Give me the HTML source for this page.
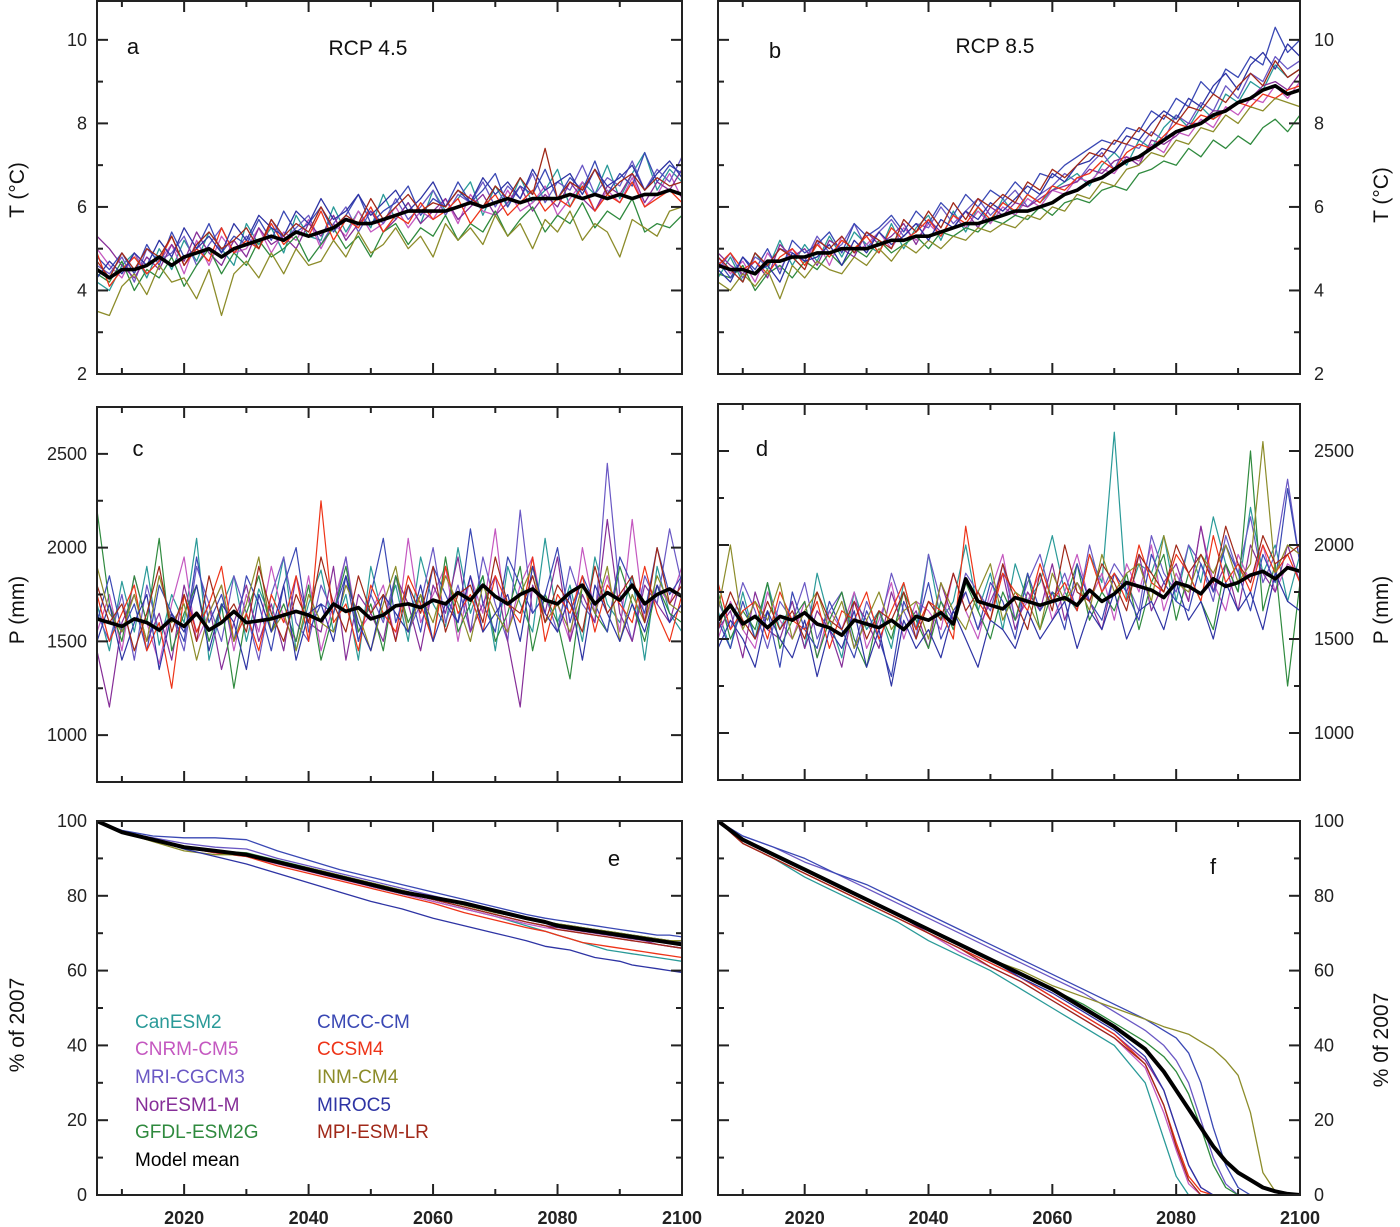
<!DOCTYPE html>
<html><head><meta charset="utf-8"><style>
html,body{margin:0;padding:0;background:#fff}
svg{display:block;font-family:"Liberation Sans",Arial,sans-serif}
</style></head><body>
<svg id="chart" width="1400" height="1227" viewBox="0 0 1400 1227"></svg>
<script>
const years2 = [];
for (let y = 2006; y <= 2100; y += 2) years2.push(y);
const yearsGlacier = [2006,2010,2015,2020,2025,2030,2035,2040,2045,2050,2055,2060,2065,2070,2075,2078,2080,2082,2084,2086,2088,2090,2092,2094,2096,2098,2100];

const modelNames = ["CanESM2","CNRM-CM5","MRI-CGCM3","NorESM1-M","GFDL-ESM2G","CMCC-CM","CCSM4","INM-CM4","MIROC5","MPI-ESM-LR"];
const modelColors = ["#2a9a98","#c458c0","#6a58c4","#862e98","#2f8a3e","#3a48b4","#ee3418","#8c8c2a","#2e34a4","#a02818"];

// Panel a: T RCP4.5
const tA_mean = [4.5,4.3,4.5,4.5,4.6,4.8,4.6,4.8,4.9,5.0,4.8,5.0,5.1,5.2,5.3,5.2,5.4,5.3,5.4,5.5,5.7,5.6,5.6,5.7,5.8,5.9,5.9,5.9,5.9,6.0,6.1,6.0,6.1,6.2,6.1,6.2,6.2,6.2,6.3,6.2,6.3,6.2,6.3,6.2,6.3,6.3,6.4,6.3];
const tA_CanESM2 = [4.2,4.0,4.6,4.9,4.3,5.0,4.5,5.2,4.7,5.4,5.0,4.6,5.6,5.1,5.5,4.9,5.8,5.3,5.2,6.0,5.4,5.9,5.5,6.3,5.7,6.1,5.6,6.4,5.9,6.2,6.6,5.8,6.5,6.0,6.7,6.1,6.4,6.9,6.0,6.6,6.3,7.0,6.2,6.8,7.3,6.4,6.9,6.6];
const tA_CNRM = [5.0,4.6,4.3,4.9,4.4,4.7,5.1,4.4,5.2,4.6,5.3,4.9,5.0,5.5,4.9,5.4,5.2,5.7,5.0,5.6,5.3,5.9,5.4,5.6,6.0,5.5,5.9,5.7,6.2,5.6,6.3,5.9,5.8,6.4,5.9,6.1,6.5,5.8,6.2,6.6,5.9,6.4,6.1,6.7,6.0,6.3,6.8,6.2];
const tA_MRI = [4.6,4.4,4.8,4.2,5.0,4.7,4.9,5.3,4.6,5.1,5.5,4.9,5.3,5.0,5.7,5.2,5.5,5.8,5.1,5.6,6.0,5.4,5.9,5.6,6.2,5.7,6.0,6.4,5.8,6.3,6.1,6.6,6.0,6.5,6.2,6.8,6.1,6.6,6.4,7.0,6.3,6.7,6.5,7.1,6.4,6.9,6.6,7.2];
const tA_NorESM = [5.3,5.0,4.6,4.3,4.8,4.5,5.1,4.7,5.4,4.9,4.6,5.2,4.8,5.5,5.1,5.3,5.0,5.6,5.3,5.8,5.2,5.6,5.9,5.4,5.7,6.1,5.6,5.9,6.2,5.7,6.0,6.3,5.8,6.1,6.5,5.9,6.3,6.0,6.6,6.2,5.9,6.5,6.3,6.8,6.1,6.6,6.4,6.9];
const tA_GFDL = [4.4,4.2,4.7,4.0,4.5,4.3,4.8,4.1,4.6,5.0,4.4,4.9,4.6,5.2,4.8,5.0,5.3,4.7,5.1,5.5,5.0,5.3,4.8,5.4,5.6,5.1,5.5,5.3,5.8,5.2,5.6,5.4,5.9,5.3,5.7,6.0,5.4,5.8,5.6,6.1,5.5,5.9,5.7,6.2,5.4,5.6,5.5,5.8];
const tA_CMCC = [4.8,4.5,4.9,4.4,5.1,4.6,5.4,4.8,5.0,5.6,4.9,5.3,5.1,5.7,5.2,5.9,5.4,5.6,6.0,5.4,5.8,6.3,5.6,5.9,6.1,6.5,5.8,6.2,6.0,6.6,6.1,6.4,6.8,6.0,6.5,6.3,6.9,6.2,6.7,6.4,7.1,6.3,6.8,6.5,7.3,6.6,7.0,6.8];
const tA_CCSM4 = [4.9,4.1,4.5,4.8,4.4,4.7,5.3,4.6,5.0,4.7,5.5,4.9,5.2,5.0,5.6,5.1,5.4,5.3,5.9,5.2,5.7,5.5,6.0,5.4,5.8,5.6,6.1,5.7,5.9,6.2,5.6,6.0,6.3,5.8,6.1,6.4,5.9,6.2,6.0,6.5,5.9,6.3,6.1,6.6,6.0,6.2,6.4,6.1];
const tA_INM = [3.5,3.4,4.1,4.4,3.9,4.6,4.2,4.3,3.8,4.5,3.4,4.4,4.7,4.3,4.9,4.4,5.0,4.6,4.7,5.2,4.8,5.4,4.9,5.1,5.5,5.0,5.3,4.8,5.6,5.2,5.5,5.1,5.8,5.3,5.6,5.0,5.7,5.4,5.9,5.2,5.6,5.4,4.8,5.7,5.5,5.3,5.9,6.0];
const tA_MIROC5 = [4.3,4.7,4.4,4.9,4.6,5.2,4.8,5.5,5.0,5.3,4.9,5.6,5.2,5.8,5.5,5.3,5.9,5.6,6.2,5.7,5.9,6.3,5.8,6.1,6.4,5.9,6.2,6.6,6.0,6.4,6.1,6.7,6.3,6.6,6.2,6.9,6.4,6.6,6.8,6.3,6.9,6.5,6.7,7.0,6.4,6.8,7.1,6.7];
const tA_MPI = [4.7,4.3,4.9,4.5,5.0,4.8,5.3,4.6,5.1,5.4,5.0,5.2,5.5,5.0,5.7,5.3,5.6,5.4,6.0,5.5,5.8,5.6,6.2,5.7,6.0,6.3,5.9,6.1,6.0,6.4,6.2,6.0,6.5,6.2,6.7,6.3,7.4,6.2,6.6,6.4,6.9,6.3,6.6,6.8,6.4,6.7,6.5,6.6];

// Panel b: T RCP8.5
const tB_mean = [4.6,4.5,4.5,4.4,4.7,4.7,4.8,4.8,4.9,4.9,5.0,5.0,5.0,5.1,5.2,5.2,5.3,5.3,5.4,5.5,5.6,5.6,5.7,5.8,5.9,5.9,6.0,6.1,6.3,6.4,6.6,6.7,6.9,7.1,7.2,7.4,7.6,7.8,7.9,8.0,8.2,8.3,8.5,8.6,8.8,8.9,8.7,8.8];
const tB_CanESM2 = [4.3,4.8,4.2,4.9,4.5,5.2,4.6,5.1,4.7,5.3,4.8,5.4,5.1,4.9,5.6,5.0,5.5,5.8,5.2,5.9,5.4,6.0,5.6,6.2,5.8,6.3,6.1,6.4,6.6,6.8,6.5,7.0,7.3,7.0,7.6,7.4,7.9,8.2,7.9,8.4,8.1,8.7,8.5,9.0,8.8,9.4,9.1,9.3];
const tB_CNRM = [4.8,4.4,4.7,4.2,4.9,4.5,5.0,4.7,5.2,4.6,5.3,4.9,5.1,5.4,5.0,5.5,5.2,5.6,5.3,5.8,5.5,5.9,5.6,6.0,5.8,6.2,6.0,6.4,6.3,6.7,6.6,6.9,6.8,7.2,7.1,7.5,7.3,7.8,7.7,8.1,7.9,8.4,8.2,8.6,8.5,8.9,8.6,9.0];
const tB_MRI = [4.5,4.9,4.3,4.8,4.6,5.0,4.9,4.7,5.3,4.9,5.1,5.6,5.0,5.4,5.7,5.3,5.6,5.5,6.0,5.6,5.9,6.2,5.8,6.1,6.4,6.0,6.3,6.5,6.8,6.6,7.0,7.3,6.9,7.5,7.4,7.8,7.6,8.2,8.0,8.5,8.3,8.9,8.6,9.2,9.0,9.6,9.3,9.5];
const tB_NorESM = [4.9,4.6,4.4,4.7,4.3,5.1,4.8,5.0,4.6,5.2,5.0,4.8,5.4,5.1,5.3,5.6,5.1,5.7,5.4,5.5,5.9,5.5,6.0,5.8,6.1,6.0,6.2,6.4,6.5,6.6,6.9,6.8,7.1,7.2,7.0,7.6,7.5,7.7,8.0,8.0,8.3,8.3,8.5,8.6,8.9,9.0,8.8,9.2];
const tB_GFDL = [4.4,4.3,4.6,4.0,4.4,4.6,4.3,4.7,4.5,4.9,4.6,5.0,4.8,5.2,4.9,5.1,5.3,5.0,5.4,5.3,5.5,5.4,5.7,5.6,5.8,5.7,6.0,5.8,6.1,6.2,6.1,6.4,6.5,6.4,6.8,6.9,7.1,7.0,7.4,7.2,7.6,7.4,7.7,7.5,7.9,8.1,7.8,8.2];
const tB_CMCC = [4.7,4.3,4.8,4.5,5.0,4.4,5.2,4.9,5.1,5.4,4.9,5.6,5.3,5.5,5.8,5.4,5.9,5.6,6.1,5.8,6.3,6.0,6.4,6.2,6.6,6.3,6.8,6.7,7.0,7.2,7.4,7.6,7.5,7.9,7.8,8.3,8.1,8.6,8.4,9.0,8.7,9.3,9.1,9.6,9.4,10.3,9.7,10.0];
const tB_CCSM4 = [4.6,4.9,4.5,4.7,4.4,4.8,5.0,4.6,5.1,4.8,5.2,5.0,5.3,4.9,5.5,5.2,5.4,5.7,5.3,5.8,5.6,6.0,5.7,6.1,5.9,6.3,6.1,6.5,6.4,6.7,6.8,7.1,6.9,7.3,7.5,7.4,7.7,8.0,7.9,8.2,8.1,8.3,8.5,8.4,8.7,8.6,8.8,8.9];
const tB_INM = [4.2,4.0,4.4,4.1,4.5,3.8,4.6,4.3,4.7,4.5,4.4,4.8,4.6,5.0,4.7,5.1,4.9,5.2,5.0,5.3,5.2,5.5,5.4,5.6,5.5,5.8,5.7,6.0,5.9,6.3,6.2,6.6,6.5,6.9,7.0,7.3,7.2,7.6,7.5,7.9,7.8,8.2,8.0,8.4,8.3,8.6,8.5,8.4];
const tB_MIROC5 = [4.5,4.2,4.8,4.4,4.6,4.2,4.9,4.7,4.8,5.1,4.6,5.2,4.9,5.4,5.1,5.3,5.6,5.2,5.7,5.5,5.9,5.7,6.1,5.9,6.2,6.5,6.3,6.8,6.6,7.0,7.1,7.4,7.3,7.7,7.6,8.0,8.3,8.1,8.6,8.4,8.9,9.2,8.8,9.4,9.7,9.3,9.9,9.6];
const tB_MPI = [4.8,4.5,4.2,4.9,4.6,5.0,4.8,4.5,5.2,5.0,5.3,4.9,5.4,5.2,5.0,5.7,5.4,5.9,5.5,6.1,5.7,6.2,6.0,6.3,6.1,6.6,6.4,6.9,6.7,7.0,7.3,7.2,7.6,7.5,7.9,7.7,8.2,8.0,8.4,8.3,8.7,8.5,8.9,9.2,8.9,9.5,9.1,9.3];

// Panel c: P RCP4.5
const pC_mean = [1620,1600,1580,1620,1600,1560,1620,1580,1650,1560,1600,1660,1600,1610,1620,1640,1660,1640,1610,1700,1660,1680,1620,1640,1690,1700,1680,1720,1700,1760,1720,1800,1740,1700,1750,1780,1720,1700,1760,1800,1700,1760,1720,1800,1700,1750,1780,1740];
const pC_CanESM2 = [1700,1450,1820,1550,1900,1480,1750,1600,2050,1400,1680,1850,1500,1780,1620,1950,1450,1700,1880,1550,1750,1400,1900,1620,1800,1500,1950,1700,1580,2000,1650,1850,1450,1900,1700,1550,2050,1600,1800,1500,1950,1700,1600,1850,1400,1900,1650,1550];
const pC_CNRM = [1550,1750,1450,1850,1600,1380,1700,1950,1500,1650,1800,1450,1750,1550,1900,1620,1500,1850,1450,1700,1950,1550,1650,1800,1500,2050,1600,1750,1900,1500,1850,1650,2100,1550,1800,1950,1600,1700,1500,2000,1650,1850,1550,2150,1600,1800,1700,1900];
const pC_MRI = [1650,1500,1750,1400,1800,1550,1650,1450,1900,1700,1500,1850,1650,1400,1750,1950,1600,1500,1800,1650,1950,1500,1750,1600,1850,1550,1700,2000,1600,1800,1550,1950,1700,1500,2200,1650,1750,1550,1900,1700,1600,2450,1750,1500,1850,1700,2100,1800];
const pC_NorESM = [1450,1150,1600,1750,1500,1650,1400,1800,1550,1700,1350,1600,1800,1500,1700,1450,1850,1600,1550,1900,1400,1750,1650,1500,1850,1700,1450,1800,1650,1950,1550,1700,1850,1500,1150,1800,1650,1950,1500,1750,1600,2150,1650,1500,1800,1700,1600,1850];
const pC_GFDL = [2200,1700,1500,1850,1600,2050,1450,1650,1800,1500,1700,1250,1650,1850,1550,1700,1500,1800,1400,1650,1900,1550,1700,1450,1850,1600,1750,1500,1950,1550,1700,1850,1500,1650,1900,1450,1750,1600,1300,1800,1650,1550,1900,1700,1500,1800,1650,1600];
const pC_CMCC = [1600,1850,1550,1700,1450,1800,1650,1500,1950,1600,1750,1500,1850,1700,1450,1800,2000,1550,1700,1650,1850,1500,1750,2050,1600,1800,1550,1900,1750,1600,2100,1700,1550,1950,1800,1650,1750,2000,1600,1850,1700,1550,1950,1800,1650,2000,1750,1850];
const pC_CCSM4 = [1750,1500,1650,1800,1450,1600,1250,1750,1550,1700,1900,1500,1650,1450,1750,1600,1850,1500,2250,1600,1700,1450,1800,1650,1550,1850,1700,1500,1900,1650,1750,1550,1850,1700,1600,1950,1500,1750,1650,1850,1550,1800,1700,1600,1900,1650,1500,1750];
const pC_INM = [1900,1650,1550,1750,1500,1850,1600,1700,1400,1650,1800,1500,1700,1950,1550,1650,1450,1750,1600,1550,1800,1650,1450,1700,1900,1550,1750,1600,1850,1700,1500,1800,1650,1550,1750,1900,1600,1700,1550,1800,1650,1900,1500,1750,1600,1850,1700,1650];
const pC_MIROC5 = [1500,1700,1400,1600,1750,1350,1650,1550,1800,1450,1700,1600,1350,1750,1550,1800,1400,1650,1700,1500,1850,1600,1450,1750,1650,1550,1800,1500,1700,1600,1850,1550,1650,1750,1500,1900,1650,1550,1750,1400,1800,1650,1500,1700,1550,1800,1600,1700];
const pC_MPI = [1800,1600,1700,1450,1650,1900,1550,1750,1500,1850,1600,1700,1550,1900,1650,1500,1750,1600,1950,1700,1550,1850,1650,1750,1500,1800,1650,1900,1550,1750,1800,1600,1950,1700,1650,1850,1600,1800,1700,1550,1900,1650,1750,1850,1600,2000,1700,1800];

// Panel d: P RCP8.5
const pD_mean = [1600,1680,1580,1620,1560,1620,1600,1640,1580,1560,1520,1600,1580,1560,1600,1550,1620,1600,1640,1580,1820,1700,1680,1660,1720,1700,1680,1700,1720,1680,1760,1700,1740,1800,1780,1760,1720,1800,1780,1740,1820,1780,1800,1840,1860,1820,1880,1860];
const pD_CanESM2 = [1650,1450,1750,1500,1800,1550,1700,1450,1850,1600,1400,1750,1550,1650,1450,1800,1550,1950,1600,1700,2000,1650,1850,1550,1900,1700,1800,2050,1750,1650,1950,1800,2600,1700,1900,1850,2050,1700,2000,1800,2150,1900,1750,2200,1850,2000,1700,1950];
const pD_CNRM = [1500,1700,1550,1450,1750,1600,1500,1700,1400,1650,1550,1750,1450,1600,1800,1500,1700,1650,1550,1850,1650,1500,1750,1950,1600,1700,1850,1600,1750,1950,1700,1850,1600,1900,1750,2000,1650,1850,1700,2100,1800,1650,1950,1800,2000,1750,1900,1850];
const pD_MRI = [1700,1550,1800,1650,1450,1700,1600,1800,1500,1650,1750,1450,1700,1550,1850,1650,1500,1950,1700,1600,1850,1750,1650,1900,1600,1800,1950,1700,1850,1650,2000,1750,1900,1800,1650,2050,1850,1750,2000,1900,1700,2050,1850,2150,1800,1950,2350,1900];
const pD_NorESM = [1550,1650,1400,1750,1550,1500,1700,1450,1650,1550,1350,1700,1600,1450,1750,1550,1650,1450,1800,1600,1750,1550,1700,1850,1550,1750,1650,1900,1600,1800,1700,1550,1850,1750,1950,1650,1800,1900,1700,2100,1750,1900,1650,2000,1850,1750,2000,1800];
const pD_GFDL = [1750,1500,1650,1550,1800,1450,1600,1700,1400,1600,1750,1500,1350,1650,1500,1750,1600,1450,1700,1550,1800,1650,1500,1750,1600,1850,1550,1750,1700,1900,1600,1750,1650,1850,1550,1800,1950,1600,1850,1700,1550,1900,1750,2500,1650,1900,1250,1800];
const pD_CMCC = [1600,1450,1700,1500,1650,1350,1750,1550,1450,1700,1550,1400,1650,1500,1300,1700,1550,1800,1500,1650,1750,1550,1800,1700,1500,1850,1650,1750,1550,1900,1700,1600,1850,1750,1600,1950,1800,1700,1650,1900,1750,2000,1850,1650,1950,1800,2300,1900];
const pD_CCSM4 = [1800,1550,1650,1700,1500,1750,1600,1550,1700,1450,1650,1600,1750,1500,1650,1800,1550,1700,1650,1500,2100,1700,1600,1850,1750,1650,1900,1700,1800,1650,1950,1750,1850,1700,2000,1800,1750,1950,1850,1700,2050,1800,1900,1750,2000,1850,1950,1800];
const pD_INM = [1650,2000,1550,1700,1600,1800,1500,1650,1750,1550,1700,1450,1600,1750,1550,1650,1700,1500,1800,1650,1550,1750,1900,1600,1750,1700,1550,1850,1700,1800,1650,1950,1750,1850,1900,1700,2050,1800,1750,1950,1850,2000,1800,1900,2550,1850,2000,1950];
const pD_MIROC5 = [1450,1600,1500,1350,1650,1500,1400,1600,1300,1550,1450,1650,1350,1550,1250,1600,1450,1550,1400,1650,1500,1350,1600,1550,1450,1650,1500,1600,1700,1450,1650,1550,1750,1500,1650,1700,1550,1800,1600,1700,1500,1800,1650,1750,1550,1850,1700,1650];
const pD_MPI = [1550,1750,1600,1500,1700,1550,1650,1500,1750,1600,1550,1700,1500,1650,1600,1750,1500,1700,1600,1850,1650,1750,1600,1900,1700,1550,1850,1650,2000,1750,1700,1900,1800,1650,1950,1850,1750,2000,1850,1950,1800,2100,1900,1800,2050,1900,1950,2000];

// Panel e: glacier volume RCP4.5 (% of 2007)
const gE_mean = [100,97,95,93,92,91,89,87,85,83,81,79.5,78,76,74,73,72,71.5,71,70.5,70,69.5,69,68.5,68,67.5,67];
const gE_CanESM2 = [100,97,95,93,92,91,89,87,85,82.5,80.5,78.5,76.5,74.5,72,70.5,69.5,68.5,67.5,66.5,65.5,65,64.5,64,63.5,63,62.5];
const gE_CNRM = [100,97,95,93,91.5,90.5,88.5,86.5,84.5,82.5,80.5,78.5,76.5,74.5,72.5,71.5,71,70.5,70,69.5,69,68.5,68,67.5,67,66.5,66];
const gE_MRI = [100,97,95.5,94,93,92.5,90,88,86,84,82,80,78,76,74,73,72.5,72,71.5,71,70.5,70,69.5,69,68.5,68,67.5];
const gE_NorESM = [100,97,95,93,92,91,89,87,85,83,81,79,77,75,73,72,71.5,71,70.5,70,69.5,69,68.5,68,67,66.5,66];
const gE_GFDL = [100,97,95,93,92,91.5,89.5,87.5,85.5,83.5,81.5,79.5,77.5,75.5,74,73,72.5,72,71.5,71,70.5,70,69.5,69,68.5,68,68];
const gE_CMCC = [100,97.5,96,95.5,95.5,95,92,89.5,87,85,83,81,79,77,75,74,73.5,73,72.5,72,71.5,71,70.5,70,69.5,69.5,69];
const gE_CCSM4 = [100,97,95,93,91.5,90.5,88,86,84,82,80,78,75.5,73.5,71.5,70.5,69.5,68.5,67.5,67,66.5,66,65.5,65,64.5,64,63.5];
const gE_INM = [100,97,94.5,92,91,91,89,87.5,85.5,83.5,81.5,79.5,77.5,75.5,74,73,72.5,72,71.5,71,70.5,70,69.5,69,68.5,68,68];
const gE_MIROC5 = [100,97,95,92.5,90.5,88.5,86,83.5,81,78.5,76.5,74,72,70,68,66.5,66,65.5,64.5,63.5,63,62.5,61.5,61,60.5,60,59.5];
const gE_MPI = [100,97,95,93,92,91,89,87,85,83,81,79,77,75,73,72,71,70.5,70,69.5,69,68.5,68,67.5,67,66.5,66];

// Panel f: glacier volume RCP8.5
const gF_mean = [100,95,91,87,83,79,75,71,67,63,59,55,50,45,39,33,28,23,18,13,9,6,4,2,1,0.3,0];
const gF_CanESM2 = [100,94,90,85,81,77,73,68,64,60,55,50,45,40,30,15,5,0,0,0,0,0,0,0,0,0,0];
const gF_CNRM = [100,94,90,86,82,78,74,70,65,61,57,52,47,42,34,22,12,3,0,0,0,0,0,0,0,0,0];
const gF_MRI = [100,96,93,89,86,82,78,74,70,66,62,58,54,49,44,40,36,30,20,10,3,0,0,0,0,0,0];
const gF_NorESM = [100,95,91,87,83,79,75,70,66,62,58,53,48,43,36,28,18,8,2,0,0,0,0,0,0,0,0];
const gF_GFDL = [100,95,91,87,83,79,75,71,67,63,59,55,51,46,41,37,33,27,18,8,2,0,0,0,0,0,0];
const gF_CMCC = [100,96,93,90,86,83,79,75,71,67,63,59,55,51,47,44,42,38,30,18,8,2,0,0,0,0,0];
const gF_CCSM4 = [100,94,90,86,82,78,74,70,66,62,58,53,48,43,35,24,14,5,1,0,0,0,0,0,0,0,0];
const gF_INM = [100,95,91,87,83,79,75,71,67,63,60,56,53,50,47,45,44,43,41,39,36,32,22,6,1,0,0];
const gF_MIROC5 = [100,95,91,87,83,79,75,71,67,63,58,54,49,44,37,28,18,8,2,0,0,0,0,0,0,0,0];
const gF_MPI = [100,94,90,86,82,78,74,70,66,61,57,52,47,42,35,24,13,4,0,0,0,0,0,0,0,0,0];

const NS = "http://www.w3.org/2000/svg";
const svg = document.getElementById("chart");
function mk(tag, attrs, parent) {
  const el = document.createElementNS(NS, tag);
  for (const k in attrs) el.setAttribute(k, attrs[k]);
  (parent || svg).appendChild(el);
  return el;
}

const panels = [
  {id:"a", x0:97, x1:682, y0:1, y1:374, vmin:2, vmax:10.93, major:[2,4,6,8,10], minor:[3,5,7,9], side:"left", xs:years2, mean:tA_mean,
   series:[tA_CanESM2,tA_CNRM,tA_MRI,tA_NorESM,tA_GFDL,tA_CMCC,tA_CCSM4,tA_INM,tA_MIROC5,tA_MPI], title:"T (°C)", titleY:190, lw:1.3, mw:3.6},
  {id:"b", x0:718, x1:1300, y0:1, y1:374, vmin:2, vmax:10.93, major:[2,4,6,8,10], minor:[3,5,7,9], side:"right", xs:years2, mean:tB_mean,
   series:[tB_CanESM2,tB_CNRM,tB_MRI,tB_NorESM,tB_GFDL,tB_CMCC,tB_CCSM4,tB_INM,tB_MIROC5,tB_MPI], title:"T (°C)", titleY:195, lw:1.3, mw:3.6},
  {id:"c", x0:97, x1:682, y0:407, y1:782, vmin:750, vmax:2750, major:[1000,1500,2000,2500], minor:[1250,1750,2250], side:"left", xs:years2, mean:pC_mean,
   series:[pC_CanESM2,pC_CNRM,pC_MRI,pC_NorESM,pC_GFDL,pC_CMCC,pC_CCSM4,pC_INM,pC_MIROC5,pC_MPI], title:"P (mm)", titleY:610, lw:1.2, mw:3.6},
  {id:"d", x0:718, x1:1300, y0:404, y1:780, vmin:750, vmax:2750, major:[1000,1500,2000,2500], minor:[1250,1750,2250], side:"right", xs:years2, mean:pD_mean,
   series:[pD_CanESM2,pD_CNRM,pD_MRI,pD_NorESM,pD_GFDL,pD_CMCC,pD_CCSM4,pD_INM,pD_MIROC5,pD_MPI], title:"P (mm)", titleY:610, lw:1.2, mw:3.6},
  {id:"e", x0:97, x1:682, y0:821, y1:1195, vmin:0, vmax:100, major:[0,20,40,60,80,100], minor:[10,30,50,70,90], side:"left", xs:yearsGlacier, mean:gE_mean,
   series:[gE_CanESM2,gE_CNRM,gE_MRI,gE_NorESM,gE_GFDL,gE_CMCC,gE_CCSM4,gE_INM,gE_MIROC5,gE_MPI], title:"% of 2007", titleY:1025, lw:1.3, mw:4},
  {id:"f", x0:718, x1:1300, y0:821, y1:1195, vmin:0, vmax:100, major:[0,20,40,60,80,100], minor:[10,30,50,70,90], side:"right", xs:yearsGlacier, mean:gF_mean,
   series:[gF_CanESM2,gF_CNRM,gF_MRI,gF_NorESM,gF_GFDL,gF_CMCC,gF_CCSM4,gF_INM,gF_MIROC5,gF_MPI], title:"% 0f 2007", titleY:1040, lw:1.3, mw:4}
];
const xMajor = [2020,2040,2060,2080,2100];
const xMinor = [2010,2030,2050,2070,2090];
const panelLabels = {a:[133,54],b:[775,58],c:[138,456],d:[762,456],e:[614,866],f:[1213,874]};

panels.forEach(p => {
  const g = mk("g", {});
  
  
  const xs = yr => p.x0 + (yr - 2006) / (2100 - 2006) * (p.x1 - p.x0);
  const ys = v => p.y1 - (v - p.vmin) / (p.vmax - p.vmin) * (p.y1 - p.y0);
  const clip = mk("clipPath", {id:"clip-" + p.id}, g);
  mk("rect", {x:p.x0, y:p.y0, width:p.x1 - p.x0, height:p.y1 - p.y0}, clip);
  const lines = mk("g", {"clip-path":"url(#clip-" + p.id + ")"}, g);
  p.series.forEach((arr, i) => {
    const d = arr.map((v, k) => (k ? "L" : "M") + xs(p.xs[k]).toFixed(1) + "," + ys(v).toFixed(1)).join("");
    const path = mk("path", {d:d, fill:"none", stroke:modelColors[i], "stroke-width":p.lw, "stroke-linejoin":"round"}, lines);
    
    
  });
  const md = p.mean.map((v, k) => (k ? "L" : "M") + xs(p.xs[k]).toFixed(1) + "," + ys(v).toFixed(1)).join("");
  const mp = mk("path", {d:md, fill:"none", stroke:"#000", "stroke-width":p.mw, "stroke-linejoin":"round"}, lines);
  
  
  const frame = mk("rect", {x:p.x0, y:p.y0, width:p.x1 - p.x0, height:p.y1 - p.y0, fill:"none", stroke:"#222", "stroke-width":2}, g);
  
  
  // x ticks
  xMajor.concat(xMinor).forEach(yr => {
    const L = xMajor.includes(yr) ? 11 : 6;
    const x = xs(yr);
    mk("line", {x1:x, x2:x, y1:p.y1, y2:p.y1 - L, stroke:"#222", "stroke-width":2}, g);
    mk("line", {x1:x, x2:x, y1:p.y0, y2:p.y0 + L, stroke:"#222", "stroke-width":2}, g);
  });
  // y ticks
  p.major.concat(p.minor).forEach(v => {
    const L = p.major.includes(v) ? 11 : 6;
    const y = ys(v);
    mk("line", {x1:p.x0, x2:p.x0 + L, y1:y, y2:y, stroke:"#222", "stroke-width":2}, g);
    mk("line", {x1:p.x1, x2:p.x1 - L, y1:y, y2:y, stroke:"#222", "stroke-width":2}, g);
  });
  p.major.forEach(v => {
    const left = p.side === "left";
    const t = mk("text", {x:left ? p.x0 - 10 : p.x1 + 14, y:ys(v) + 6, "text-anchor":left ? "end" : "start", "font-size":18, fill:"#222"}, g);
    t.textContent = v;
    
    
  });
  if (p.id === "e" || p.id === "f") {
    xMajor.forEach(yr => {
      const t = mk("text", {x:xs(yr), y:1224, "text-anchor":"middle", "font-size":18, "font-weight":"bold", fill:"#222"}, g);
      t.textContent = yr;
      
      
    });
  }
  const tx = p.side === "left" ? 24 : 1388;
  const tt = mk("text", {x:tx, y:p.titleY, "text-anchor":"middle", "font-size":21, fill:"#111", transform:"rotate(-90 " + tx + " " + p.titleY + ")"}, g);
  tt.textContent = p.title;
  
  
  const pl = mk("text", {x:panelLabels[p.id][0], y:panelLabels[p.id][1], "text-anchor":"middle", "font-size":22, fill:"#111"}, g);
  pl.textContent = p.id;
  
  
});

const s45 = mk("text", {x:368, y:55, "text-anchor":"middle", "font-size":21, fill:"#111"});
s45.textContent = "RCP 4.5";


const s85 = mk("text", {x:995, y:53, "text-anchor":"middle", "font-size":21, fill:"#111"});
s85.textContent = "RCP 8.5";



// legend
const legRows = [1028,1055,1083,1111,1138];
modelNames.forEach((n, i) => {
  const col = i < 5 ? 0 : 1;
  const t = mk("text", {x:col ? 317 : 135, y:legRows[i % 5], "font-size":19, fill:modelColors[i]});
  t.textContent = n;
  
  
});
const lm = mk("text", {x:135, y:1166, "font-size":19, fill:"#000"});
lm.textContent = "Model mean";


</script>
</body></html>
